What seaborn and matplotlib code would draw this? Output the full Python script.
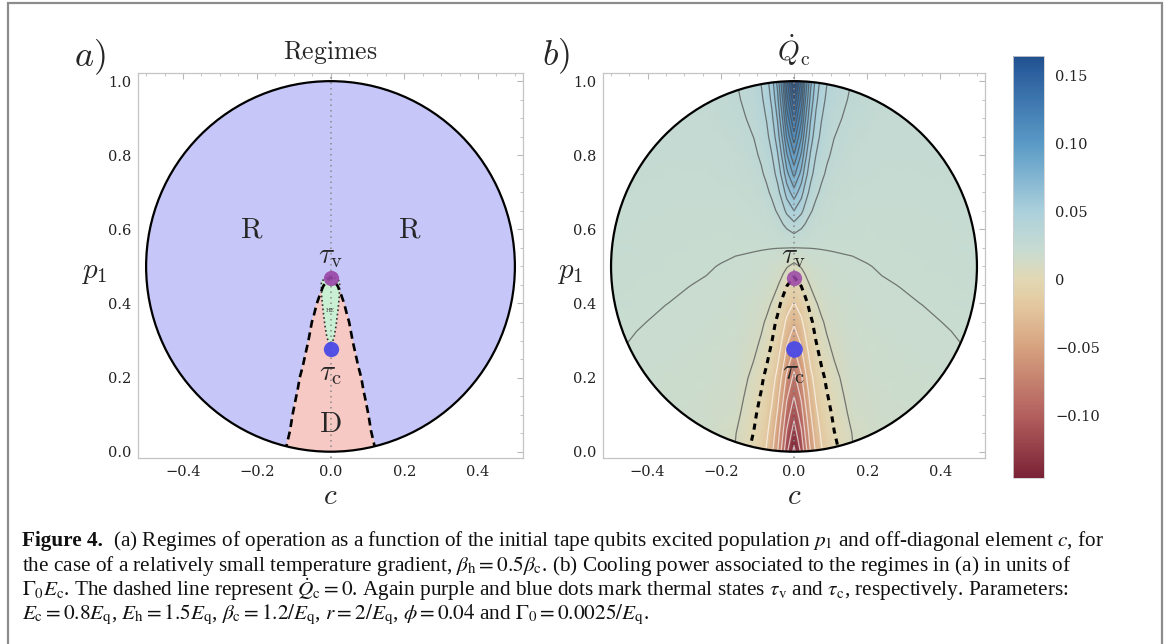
import numpy as np
import seaborn as sns
import matplotlib.pyplot as plt
from matplotlib.colors import LinearSegmentedColormap, Normalize
from matplotlib.patches import Circle, Polygon, Rectangle
from matplotlib.cm import ScalarMappable

sns.set_theme(style="white")
plt.rcParams.update({
    "font.family": ["DejaVu Serif"],
    "mathtext.fontset": "cm",
    "axes.facecolor": "white",
    "figure.facecolor": "white",
})

#%% Values
# cooling power Qc on a half grid (c >= 0), mirrored in c
c_half = [0.0, 0.02, 0.03, 0.045, 0.06, 0.075, 0.09, 0.11,
          0.16, 0.20, 0.24, 0.29, 0.35, 0.43, 0.52]
p1_rows = [0.0, 0.05, 0.10, 0.15, 0.20, 0.25, 0.30, 0.35, 0.40, 0.45, 0.50,
           0.55, 0.60, 0.65, 0.70, 0.75, 0.80, 0.85, 0.90, 0.95, 1.0]
qc_half = [
    [-0.145, -0.1160, -0.0915, -0.0596, -0.0371, -0.0221, -0.0120, -0.0033, 0.0094, 0.0126, 0.0150, 0.0160, 0.0168, 0.0174, 0.0183],
    [-0.130, -0.1025, -0.0798, -0.0506, -0.0303, -0.0169, -0.0081, -0.0003, 0.0104, 0.0133, 0.0156, 0.0165, 0.0172, 0.0178, 0.0187],
    [-0.115, -0.0893, -0.0684, -0.0420, -0.0239, -0.0121, -0.0043, 0.0024, 0.0127, 0.0147, 0.0163, 0.0170, 0.0176, 0.0182, 0.0191],
    [-0.100, -0.0762, -0.0572, -0.0336, -0.0178, -0.0075, -0.0008, 0.0050, 0.0144, 0.0158, 0.0169, 0.0175, 0.0180, 0.0186, 0.0195],
    [-0.085, -0.0634, -0.0464, -0.0256, -0.0119, -0.0032, 0.0025, 0.0074, 0.0158, 0.0167, 0.0175, 0.0180, 0.0184, 0.0190, 0.0199],
    [-0.069, -0.0491, -0.0341, -0.0164, -0.0052, 0.0019, 0.0064, 0.0102, 0.0165, 0.0173, 0.0180, 0.0184, 0.0188, 0.0194, 0.0203],
    [-0.053, -0.0360, -0.0234, -0.0089, 0.0001, 0.0057, 0.0093, 0.0123, 0.0170, 0.0178, 0.0185, 0.0188, 0.0192, 0.0198, 0.0207],
    [-0.037, -0.0237, -0.0139, -0.0026, 0.0045, 0.0089, 0.0116, 0.0140, 0.0176, 0.0184, 0.0190, 0.0193, 0.0196, 0.0202, 0.0211],
    [-0.021, -0.0110, -0.0038, 0.0043, 0.0093, 0.0123, 0.0142, 0.0159, 0.0182, 0.0189, 0.0194, 0.0197, 0.02003, 0.0206, 0.0215],
    [-0.006, 0.0009, 0.0056, 0.0107, 0.0137, 0.0156, 0.0167, 0.0176, 0.0190, 0.0194, 0.0198, 0.02005, 0.0204, 0.0210, 0.0219],
    [0.0075, 0.0108, 0.0131, 0.0155, 0.0170, 0.0179, 0.0184, 0.0189, 0.0195, 0.0199, 0.0202, 0.0205, 0.0208, 0.0214, 0.0223],
    [0.0199, 0.02005, 0.02008, 0.0201, 0.02015, 0.0202, 0.02025, 0.0203, 0.0204, 0.0205, 0.0206, 0.0209, 0.0212, 0.0218, 0.0227],
    [0.0330, 0.0296, 0.0273, 0.0248, 0.0233, 0.0224, 0.0219, 0.0214, 0.0212, 0.0211, 0.0212, 0.0214, 0.0217, 0.0223, 0.0231],
    [0.0500, 0.0422, 0.0368, 0.0310, 0.0276, 0.0255, 0.0243, 0.0232, 0.0223, 0.0220, 0.0219, 0.0220, 0.0223, 0.0228, 0.0235],
    [0.0660, 0.0540, 0.0457, 0.0369, 0.0316, 0.0285, 0.0265, 0.0249, 0.0233, 0.0228, 0.0226, 0.0226, 0.0228, 0.0233, 0.0239],
    [0.0830, 0.0665, 0.0552, 0.0431, 0.0359, 0.0316, 0.0289, 0.0267, 0.0244, 0.0236, 0.0233, 0.0232, 0.0233, 0.0238, 0.0243],
    [0.0990, 0.0783, 0.0642, 0.0489, 0.0399, 0.0345, 0.0311, 0.0284, 0.0254, 0.0244, 0.0240, 0.0238, 0.0239, 0.0243, 0.0247],
    [0.1160, 0.0909, 0.0737, 0.0551, 0.0441, 0.0376, 0.0335, 0.0301, 0.0265, 0.0253, 0.0247, 0.0244, 0.0244, 0.0248, 0.0251],
    [0.1320, 0.1027, 0.0826, 0.0610, 0.0482, 0.0405, 0.0357, 0.0318, 0.0275, 0.0261, 0.0254, 0.0250, 0.0250, 0.0253, 0.0259],
    [0.1490, 0.1152, 0.0921, 0.0672, 0.0524, 0.0436, 0.0381, 0.0336, 0.0286, 0.0269, 0.0261, 0.0256, 0.0255, 0.0258, 0.0264],
    [0.1650, 0.1270, 0.1010, 0.0731, 0.0564, 0.0465, 0.0404, 0.0353, 0.0296, 0.0277, 0.0268, 0.0262, 0.0260, 0.0263, 0.0269],
]

# heat-engine lens between the two thermal states (half widths)
he_p1 = [0.475, 0.46, 0.42, 0.38, 0.34, 0.31, 0.28]
he_c = [0.0, 0.025, 0.024, 0.020, 0.015, 0.010, 0.0]

# thermal states on the c = 0 axis
tau_v_p1 = 0.468
tau_c_p1 = 0.278

gray_levels = [0.01, 0.02, 0.03, 0.04, 0.05, 0.06, 0.07, 0.08,
               0.09, 0.10, 0.11, 0.12, 0.13, 0.14, 0.15, 0.16]
white_levels = [-0.14, -0.12, -0.10, -0.08, -0.06, -0.04, -0.02]

q_min, q_max = -0.146, 0.164
cmap_values = [-0.146, -0.10, -0.05, -0.02, 0.0, 0.02, 0.05, 0.10, 0.15, 0.164]
cmap_colors = ['#7a2236', '#b3605e', '#d6a27f', '#e3c79e', '#e2d8b4',
               '#c9dcd0', '#abd0dc', '#5a9ac6', '#2e62a0', '#22508e']

cbar_ticks = [0.15, 0.10, 0.05, 0.0, -0.05, -0.10]
cbar_labels = ['0.15', '0.10', '0.05', '0', '\u22120.05', '\u22120.10']
x_ticks = [-0.4, -0.2, 0.0, 0.2, 0.4]
x_labels = ['\u22120.4', '\u22120.2', '0.0', '0.2', '0.4']
y_ticks = [0.0, 0.2, 0.4, 0.6, 0.8, 1.0]
y_labels = ['0.0', '0.2', '0.4', '0.6', '0.8', '1.0']

caption_head = 'Figure 4.'
caption_lines = [
    r'(a) Regimes of operation as a function of the initial tape qubits excited population $p_1$ and off-diagonal element $c$, for',
    r'the case of a relatively small temperature gradient, $\beta_{\rm h}=0.5\beta_{\rm c}$. (b) Cooling power associated to the regimes in (a) in units of',
    r'$\Gamma_0E_{\rm c}$. The dashed line represent $\dot{Q}_{\rm c}=0$. Again purple and blue dots mark thermal states $\tau_{\rm v}$ and $\tau_{\rm c}$, respectively. Parameters:',
    r'$E_{\rm c}=0.8E_{\rm q}$, $E_{\rm h}=1.5E_{\rm q}$, $\beta_{\rm c}=1.2/E_{\rm q}$, $r=2/E_{\rm q}$, $\phi=0.04$ and $\Gamma_0=0.0025/E_{\rm q}$.',
]

#%% Build mirrored grid
c_h = np.array(c_half)
q_h = np.array(qc_half)
c_full = np.concatenate([-c_h[:0:-1], c_h])
q_full = np.hstack([q_h[:, :0:-1], q_h])
C, P = np.meshgrid(c_full, np.array(p1_rows))

norm = Normalize(q_min, q_max)
cmap = LinearSegmentedColormap.from_list(
    'qc', [((v - q_min) / (q_max - q_min), col) for v, col in zip(cmap_values, cmap_colors)])

#%% Figure
W, H = 1176, 644
fig = plt.figure(figsize=(W / 100, H / 100), dpi=100)
ax_a = fig.add_axes([138 / W, 1 - 458 / H, 385 / W, 385 / H])
ax_b = fig.add_axes([603 / W, 1 - 458 / H, 382 / W, 385 / H])
cax = fig.add_axes([1013 / W, 1 - 478 / H, 31 / W, 422 / H])


def style_axes(ax):
    ax.set_xlim(-0.522, 0.522)
    ax.set_ylim(-0.017, 1.022)
    ax.set_xticks(x_ticks)
    ax.set_xticklabels(x_labels)
    ax.set_yticks(y_ticks)
    ax.set_yticklabels(y_labels)
    ax.set_xticks(np.arange(-0.5, 0.51, 0.05), minor=True)
    ax.set_yticks(np.arange(0.0, 1.01, 0.05), minor=True)
    ax.tick_params(which='both', direction='in', color='#b8b8b8',
                   top=True, right=True, labelsize=10.5, labelcolor='#222222')
    ax.tick_params(which='major', length=4, width=0.8, pad=5)
    ax.tick_params(which='minor', length=2, width=0.6)
    for sp in ax.spines.values():
        sp.set_color('#c4c4c4')
        sp.set_linewidth(0.9)
    ax.axvline(0, color='#8a8a8a', lw=1.1, ls=(0, (1, 2.6)), zorder=6)
    ax.text(0.5, -0.10, '$c$', transform=ax.transAxes, ha='center', va='center', fontsize=21)


def disk(ax, **kw):
    patch = Circle((0, 0.5), 0.5, transform=ax.transData, **kw)
    ax.add_patch(patch)
    return patch


#%% Panel a: regimes
style_axes(ax_a)
clip_a = disk(ax_a, facecolor='#c6c6f8', edgecolor='none', zorder=1)
cf = ax_a.contourf(C, P, q_full, levels=[-1, 0], colors=['#f6c9c4'], zorder=2)
cf.set_clip_path(clip_a)
he_poly = np.column_stack([np.concatenate([he_c, -np.array(he_c)[::-1]]),
                           np.concatenate([he_p1, he_p1[::-1]])])
ax_a.add_patch(Polygon(he_poly, closed=True, facecolor='#c9f0d2', edgecolor='#333333',
                       lw=1.2, ls=(0, (1, 1.6)), zorder=3))
zc = ax_a.contour(C, P, q_full, levels=[0], colors='black', linewidths=1.9,
                  linestyles=[(0, (3, 1.8))], zorder=4)
zc.set_clip_path(clip_a)
disk(ax_a, facecolor='none', edgecolor='black', lw=1.6, zorder=7)
ax_a.plot([0], [tau_v_p1], 'o', ms=11, color='#9a45a8', alpha=0.9, mec='none', zorder=8)
ax_a.plot([0], [tau_c_p1], 'o', ms=11, color='#4a4ae6', alpha=0.95, mec='none', zorder=8)
ax_a.text(0, 0.527, r'$\tau_{\rm v}$', ha='center', va='center', fontsize=21, zorder=9)
ax_a.text(0, 0.212, r'$\tau_{\rm c}$', ha='center', va='center', fontsize=21, zorder=9)
ax_a.text(0, 0.38, 'HE', ha='center', va='center', fontsize=4, color='#444444', zorder=9)
ax_a.text(0, 0.075, r'$\mathrm{D}$', ha='center', va='center', fontsize=21, zorder=9)
ax_a.text(-0.215, 0.60, r'$\mathrm{R}$', ha='center', va='center', fontsize=21, zorder=9)
ax_a.text(0.215, 0.60, r'$\mathrm{R}$', ha='center', va='center', fontsize=21, zorder=9)
ax_a.text(0.5, 1.052, r'$\mathrm{Regimes}$', transform=ax_a.transAxes, ha='center',
          va='center', fontsize=18.5)
ax_a.text(-0.115, 0.483, '$p_1$', transform=ax_a.transAxes, ha='center', va='center', fontsize=21)

#%% Panel b: cooling power
style_axes(ax_b)
clip_b = disk(ax_b, facecolor='none', edgecolor='none', zorder=1)
mesh = ax_b.pcolormesh(C, P, q_full, shading='gouraud', cmap=cmap, norm=norm, zorder=2)
mesh.set_clip_path(clip_b)
gl = ax_b.contour(C, P, q_full, levels=gray_levels, colors='#4a4a4a', linewidths=0.9,
                  alpha=0.7, linestyles='solid', zorder=3)
gl.set_clip_path(clip_b)
wl = ax_b.contour(C, P, q_full, levels=white_levels, colors='white', linewidths=0.9,
                  alpha=0.65, linestyles='solid', zorder=3)
wl.set_clip_path(clip_b)
zb = ax_b.contour(C, P, q_full, levels=[0], colors='black', linewidths=2.2,
                  linestyles=[(0, (2, 1.7))], zorder=4)
zb.set_clip_path(clip_b)
disk(ax_b, facecolor='none', edgecolor='black', lw=1.6, zorder=7)
ax_b.plot([0], [tau_v_p1], 'o', ms=11, color='#9a45a8', alpha=0.85, mec='none', zorder=8)
ax_b.plot([0], [tau_c_p1], 'o', ms=12, color='#4a4ae6', alpha=0.95, mec='none', zorder=8)
ax_b.text(0, 0.527, r'$\tau_{\rm v}$', ha='center', va='center', fontsize=21, zorder=9)
ax_b.text(0, 0.216, r'$\tau_{\rm c}$', ha='center', va='center', fontsize=21, zorder=9)
ax_b.text(0.5, 1.06, r'$\dot{Q}_{\rm c}$', transform=ax_b.transAxes, ha='center',
          va='center', fontsize=20)
ax_b.text(-0.085, 0.483, '$p_1$', transform=ax_b.transAxes, ha='center', va='center', fontsize=21)

#%% Colorbar
cb = fig.colorbar(ScalarMappable(norm=norm, cmap=cmap), cax=cax, ticks=cbar_ticks)
cb.set_ticklabels(cbar_labels)
cb.outline.set_edgecolor('#d0d0d0')
cb.outline.set_linewidth(0.6)
cax.tick_params(length=0, pad=8, labelsize=10.5, labelcolor='#222222')

#%% Panel letters, frame and caption
fig.text(90 / W, 1 - 57 / H, '$a)$', fontsize=26, ha='center', va='center')
fig.text(556 / W, 1 - 56 / H, '$b)$', fontsize=26, ha='center', va='center')
fig.add_artist(Rectangle((8 / W, -0.02), (1162 - 8) / W, 1.02 - 3 / H,
                         transform=fig.transFigure, fill=False, edgecolor='#8c8c8c', lw=1.6))

cap_kw = dict(fontsize=15.3, family='Liberation Serif', math_fontfamily='stix',
              va='center', ha='left', color='#111111')
line_y = [541, 565.5, 590, 614.5]
head = fig.text(22 / W, 1 - line_y[0] / H, caption_head, weight='bold', **cap_kw)
fig.canvas.draw()
bb = head.get_window_extent(fig.canvas.get_renderer())
fig.text((bb.x1 + 10) / W, 1 - line_y[0] / H, caption_lines[0], **cap_kw)
for y, line in zip(line_y[1:], caption_lines[1:]):
    fig.text(22 / W, 1 - y / H, line, **cap_kw)

fig.savefig('out.png', dpi=100)
